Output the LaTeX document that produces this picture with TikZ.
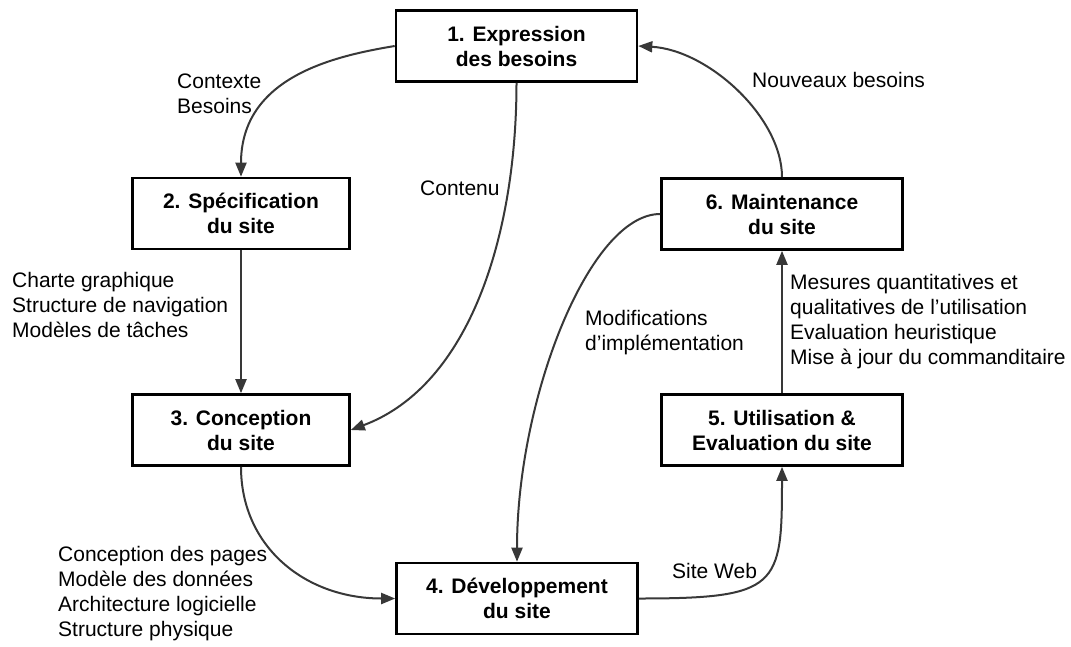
\documentclass[tikz,border=0pt]{standalone}
\usepackage{fontspec}
\setmainfont{Liberation Sans}
\usetikzlibrary{arrows.meta}
\definecolor{linegray}{HTML}{383838}
\begin{document}
\begin{tikzpicture}[x=1pt,y=1pt,
  phase/.style={draw=black,line width=2.6pt,fill=white,align=center,
    minimum height=71pt,inner sep=0pt,
    font=\bfseries\fontsize{21}{25}\selectfont},
  wide/.style={phase,minimum width=241pt},
  narrow/.style={phase,minimum width=217pt},
  flow/.style={draw=linegray,line width=2pt,
    -{Triangle[length=14pt,width=11pt]}},
  note/.style={anchor=west,inner sep=0pt,align=left,
    font=\fontsize{21}{25}\selectfont}]
\useasboundingbox (0,0) rectangle (1071,-646);

% the six phases of the cycle
\node[wide]   (b1) at (516.5,-46)  {1. Expression\\des besoins};
\node[narrow] (b2) at (241,-213.5) {2. Spécification\\du site};
\node[narrow] (b3) at (241,-430)   {3. Conception\\du site};
\node[wide]   (b4) at (517,-598.5) {4. Développement\\du site};
\node[wide]   (b5) at (782,-430)   {5. Utilisation \&\\Evaluation du site};
\node[wide]   (b6) at (782,-214)   {6. Maintenance\\du site};

% flows between phases
\draw[flow] (b1.west) .. controls +(-60,-10) and +(0,100) .. (b2.north);
\draw[flow] (b1.south) .. controls +(0,-150) and +(120,45) .. (b3.east);
\draw[flow] (b2) -- (b3);
\draw[flow] (b3.south) .. controls +(0,-80) and +(-90,0) .. (b4.west);
\draw[flow] (b4.east) .. controls +(140,0) and +(0,-120) .. (b5.south);
\draw[flow] (b5) -- (b6);
\draw[flow] (b6.north) .. controls +(0,60) and +(70,-4) .. (b1.east);
\draw[flow] (b6.west) .. controls +(-71,0) and +(0,163) .. (b4.north);

% what each flow carries
\node[note] (lctx)  at (177,-93.5)  {Contexte\\Besoins};
\node[note] (lcont) at (420,-188)   {Contenu};
\node[note] (lspec) at (12,-305)    {Charte graphique\\Structure de navigation\\Modèles de tâches};
\node[note] (lconc) at (58,-593.5)  {Conception des pages\\Modèle des données\\Architecture logicielle\\Structure physique};
\node[note] (lweb)  at (672,-571)   {Site Web};
\node[note] (lmes)  at (790,-321.5) {Mesures quantitatives et\\qualitatives de l’utilisation\\Evaluation heuristique\\Mise à jour du commanditaire};
\node[note] (lmod)  at (585,-332.5) {Modifications\\d’implémentation};
\node[note] (lnew)  at (752,-80)    {Nouveaux besoins};
\end{tikzpicture}
\end{document}
